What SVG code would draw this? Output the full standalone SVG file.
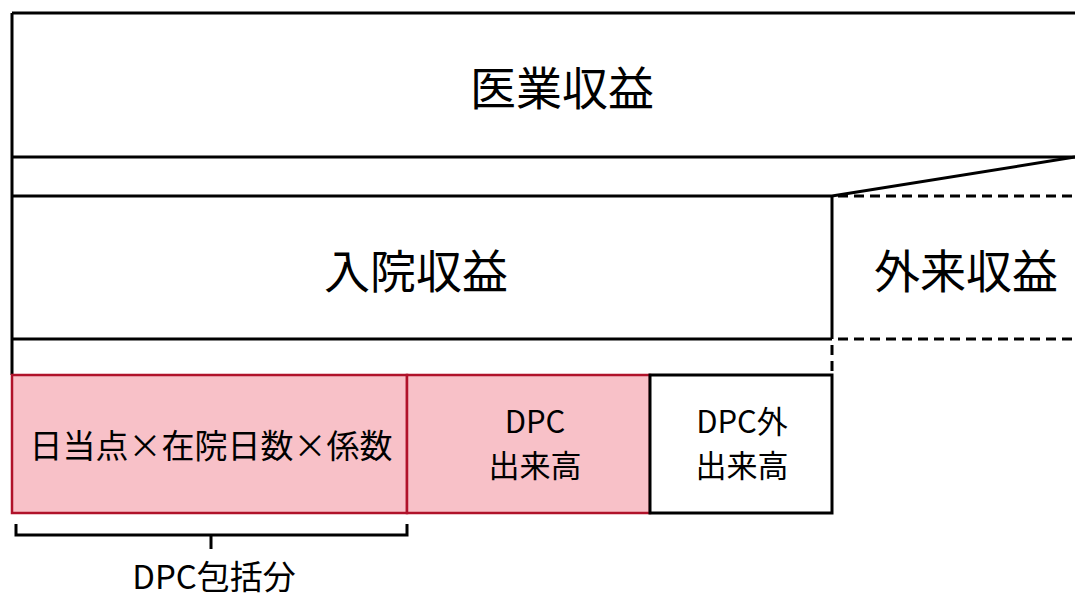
<svg xmlns="http://www.w3.org/2000/svg" width="1075" height="597" viewBox="0 0 1075 597">
<style>
.ln{stroke:#000;stroke-width:3;fill:none}
.dash{stroke:#000;stroke-width:3;fill:none;stroke-dasharray:10 6}
.pink{fill:#F8C1C8;stroke:#B0122A;stroke-width:2.5}
.white{fill:#fff;stroke:#000;stroke-width:3}
text{font-family:"Noto Sans CJK JP","Noto Sans",sans-serif;fill:#000;text-anchor:middle;dominant-baseline:central}
.big{font-size:46px}
.mid{font-size:33px}
.two{font-size:31px}
</style>
<rect width="1075" height="597" fill="#fff"/>
<g id="connectors">
<line class="ln" x1="12" y1="13" x2="1080" y2="13"/>
<line class="ln" x1="12" y1="13" x2="12" y2="375"/>
<line class="ln" x1="12" y1="157" x2="1080" y2="157"/>
<polyline class="ln" points="12,196 832,196 1075,157"/>
<line class="ln" x1="12" y1="339" x2="832" y2="339"/>
<line class="ln" x1="832" y1="196" x2="832" y2="339"/>
<line class="dash" x1="838" y1="196" x2="1075" y2="196"/>
<line class="dash" x1="838" y1="339" x2="1075" y2="339"/>
<line class="dash" x1="832" y1="345" x2="832" y2="375"/>
<path class="ln" d="M16,524 V535 H407 V524 M211,535 V549"/>
</g>
<g id="iryo"><text class="big" x="562" y="85">医業収益</text></g>
<g id="nyuin"><text class="big" x="416" y="268">入院収益</text></g>
<g id="gairai"><text class="big" x="966" y="268">外来収益</text></g>
<g id="hotatsu">
<rect class="pink" x="12" y="375" width="395" height="138"/>
<text class="mid" x="211" y="444">日当点×在院日数×係数</text>
</g>
<g id="dpc-dekidaka">
<rect class="pink" x="407" y="375" width="243" height="138"/>
<text class="two" x="535" y="419">DPC</text>
<text class="two" x="535" y="463">出来高</text>
</g>
<g id="dpc-gai">
<rect class="white" x="650" y="375" width="182" height="138"/>
<text class="two" x="742" y="419">DPC外</text>
<text class="two" x="742" y="463">出来高</text>
</g>
<g id="label"><text class="mid" x="214" y="575">DPC包括分</text></g>
</svg>
